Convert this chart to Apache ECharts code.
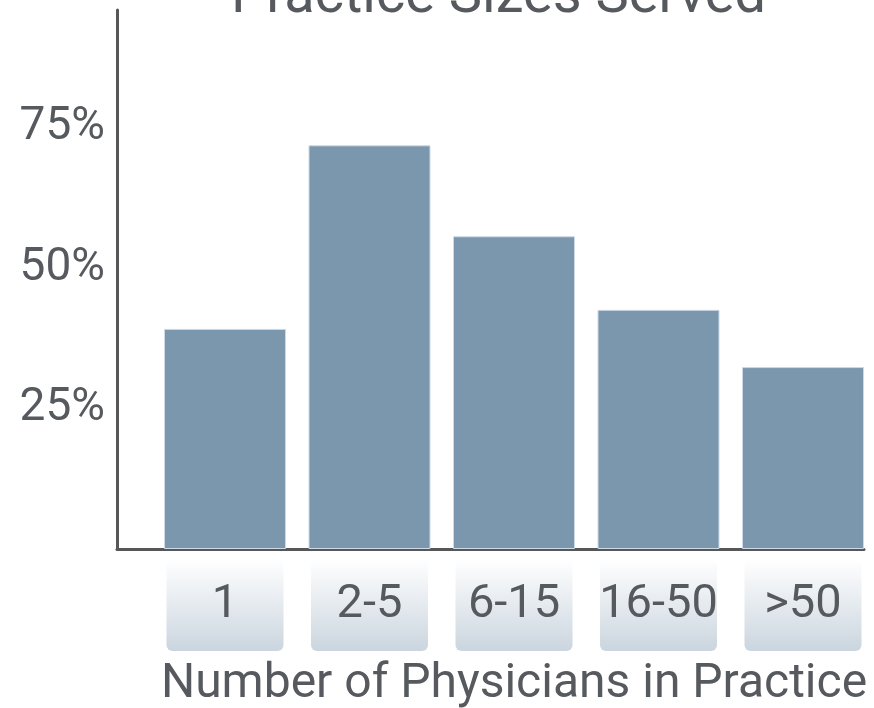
<!DOCTYPE html>
<html>
<head>
<meta charset="utf-8">
<title>Practice Sizes Served</title>
<script src="https://cdn.jsdelivr.net/npm/echarts@6/dist/echarts.min.js"></script>
<style>
  html, body { margin: 0; padding: 0; background: #fff; }
  #main { width: 874px; height: 708px; }
</style>
</head>
<body>
<div id="main"></div>
<script>
// data
var categories = ["1", "2-5", "6-15", "16-50", ">50"];
var shares = [39.2, 71.9, 55.7, 42.6, 32.4];
var tickValues = [25, 50, 75];

var textColor = "#565a5e";
var axisColor = "#555759";
var font = "Roboto";

var myChart = echarts.init(document.getElementById("main"));

var option = {
  backgroundColor: "#fff",
  animation: false,
  title: {
    text: "Practice Sizes Served",
    left: 231,
    top: -30,
    padding: 0,
    textStyle: {
      fontFamily: font,
      fontSize: 56,
      fontWeight: "normal",
      lineHeight: 56,
      color: textColor,
    },
  },
  grid: [
    // axis frame
    { left: 117, right: 10, top: 10, bottom: 159, outerBoundsMode: "none" },
    // bars (bands are offset from the y axis)
    { left: 152.75, width: 722.5, top: 10, bottom: 159, outerBoundsMode: "none" },
  ],
  xAxis: [
    {
      gridIndex: 0,
      type: "value",
      min: 0,
      max: 1,
      axisLine: { show: true, lineStyle: { color: axisColor, width: 3 } },
      axisTick: { show: false },
      axisLabel: { show: false },
      splitLine: { show: false },
    },
    {
      gridIndex: 1,
      type: "category",
      data: categories,
      axisLine: { show: false },
      axisTick: { show: false },
      splitLine: { show: false },
      axisLabel: {
        interval: 0,
        hideOverlap: false,
        margin: 10,
        fontFamily: font,
        fontSize: 47,
        color: textColor,
        width: 117,
        height: 92,
        lineHeight: 92,
        align: "center",
        borderRadius: 6,
        backgroundColor: new echarts.graphic.LinearGradient(0, 0, 0, 1, [
          { offset: 0, color: "#ffffff" },
          { offset: 1, color: "#cbd5df" },
        ]),
      },
      name: "Number of Physicians in Practice",
      nameLocation: "middle",
      nameGap: 112,
      nameTextStyle: {
        fontFamily: font,
        fontSize: 48,
        lineHeight: 48,
        color: textColor,
      },
    },
  ],
  yAxis: [
    {
      gridIndex: 0,
      type: "value",
      min: 0,
      max: 96,
      interval: 25,
      axisLine: { show: true, lineStyle: { color: axisColor, width: 3 } },
      axisTick: { show: false },
      splitLine: { show: false },
      axisLabel: {
        margin: 12,
        fontFamily: font,
        fontSize: 46,
        color: textColor,
        formatter: function (v) {
          return tickValues.indexOf(v) >= 0 ? v + "%" : "";
        },
      },
    },
    {
      gridIndex: 1,
      type: "value",
      min: 0,
      max: 96,
      show: false,
    },
  ],
  series: [
    {
      type: "bar",
      xAxisIndex: 1,
      yAxisIndex: 1,
      data: shares,
      barWidth: 122,
      itemStyle: {
        color: "#7b97ad",
        borderColor: "#cdd9e4",
        borderWidth: 1,
      },
    },
  ],
};

option && myChart.setOption(option);
</script>
</body>
</html>
